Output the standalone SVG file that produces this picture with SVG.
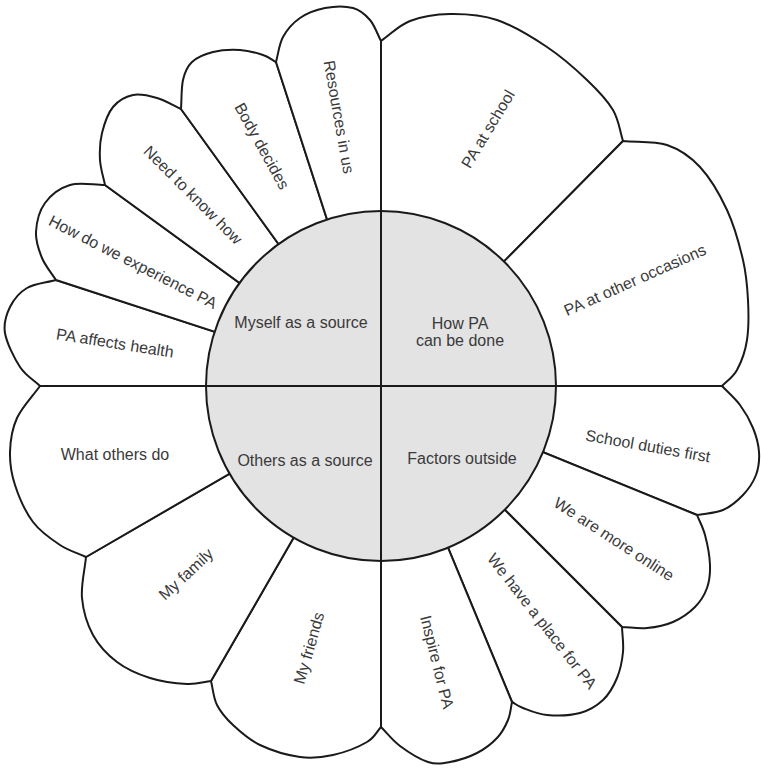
<svg xmlns="http://www.w3.org/2000/svg" width="761" height="770" viewBox="0 0 761 770">
<style>
.petal{fill:#ffffff;stroke:#1a1a1a;stroke-width:2;stroke-linejoin:round}
.core{fill:#e3e3e3;stroke:#1a1a1a;stroke-width:2}
.ln{stroke:#1a1a1a;stroke-width:2;fill:none}
text{font-family:"Liberation Sans",Arial,sans-serif;font-size:16px;fill:#3a3a3a;text-anchor:middle;dominant-baseline:central}
</style>
<rect width="761" height="770" fill="#ffffff"/>
<g id="petal-pa-affects-health">
<path class="petal" d="M381,386 L40,386 C33.3,379.7 25.8,375.8 20,367 S6.7,343 5,333 S6.3,314.5 10,307 S19.3,292.5 27,288 S46.3,282.7 56,280 Z"/>
<text transform="translate(115,343) rotate(9)">PA affects health</text>
</g>
<g id="petal-experience">
<path class="petal" d="M381,386 L56,280 C51.3,272.7 45.3,266 42,258 S35.5,241.2 36,232 S39.3,210.8 45,203 S60,188 70,185 S93.3,185 105,185 Z"/>
<text transform="translate(133,262) rotate(27)">How do we experience PA</text>
</g>
<g id="petal-need-to-know">
<path class="petal" d="M381,386 L105,185 C103.3,176.7 100.5,168.7 100,160 S99.8,141.8 102,133 S107.8,113.3 113,107 S125.7,96.5 133,95 S149,95.7 157,98 S173,105.3 181,109 Z"/>
<text transform="translate(193,195) rotate(45)">Need to know how</text>
</g>
<g id="petal-body-decides">
<path class="petal" d="M381,386 L181,109 C181.7,99.3 181.2,87.8 183,80 S187,66.7 192,62 S205,54 213,52 S231.7,49.5 240,50 S257,53 263,55 S271.7,59.7 276,62 Z"/>
<text transform="translate(262,146) rotate(61)">Body decides</text>
</g>
<g id="petal-resources">
<path class="petal" d="M381,386 L276,62 C278.3,53.7 279,44.3 283,37 S293,22.8 300,18 S316.2,9.7 325,8 S345.5,6 353,8 S365.3,14.5 370,20 S377.3,34 381,41 Z"/>
<text transform="translate(339,117) rotate(80)">Resources in us</text>
</g>
<g id="petal-pa-at-school">
<path class="petal" d="M381,386 L381,41 C390.7,34.3 398.5,25.5 410,21 S435.5,14.2 450,14 S480.8,14.5 497,20 S532,37 547,47 S576,69.5 587,80 S607,99.8 613,110 S619.7,130.7 623,141 Z"/>
<text transform="translate(488,129) rotate(-59)">PA at school</text>
</g>
<g id="petal-pa-other">
<path class="petal" d="M381,386 L623,141 C637.7,142.3 654.2,140.7 667,145 S690,156.2 700,167 S719.8,194.5 727,210 S739.5,245 743,260 S747.3,286.7 748,300 S748.8,328.3 747,340 S741.2,362.3 737,370 S727,380.7 722,386 Z"/>
<text transform="translate(635,280) rotate(-24)">PA at other occasions</text>
</g>
<g id="petal-school-duties">
<path class="petal" d="M381,386 L722,386 C728,392.3 734.8,398 740,405 S749.8,420.2 753,428 S758.5,444.2 759,452 S758.7,467.8 756,475 S748.5,489.2 743,495 S730.7,506.7 723,510 S705.7,513.3 697,515 Z"/>
<text transform="translate(648,446) rotate(10)">School duties first</text>
</g>
<g id="petal-online">
<path class="petal" d="M381,386 L697,515 C699.7,521.7 702.8,526.7 705,535 S709.7,556.2 710,565 S709.5,581 707,588 S700.7,601.3 695,607 S681,618.5 673,622 S655.5,627.2 647,628 S630.3,627.3 622,627 Z"/>
<text transform="translate(614,539) rotate(33)">We are more online</text>
</g>
<g id="petal-place">
<path class="petal" d="M381,386 L622,627 C622.3,635.3 623.8,643.5 623,652 S620.3,670 617,678 S609.2,694.2 603,700 S589.3,710.5 580,713 S556.5,715.8 547,715 S528.8,710.2 523,708 S515.7,704 512,702 Z"/>
<text transform="translate(542,621) rotate(52)">We have a place for PA</text>
</g>
<g id="petal-inspire">
<path class="petal" d="M381,386 L512,702 C510.7,708 510.5,714 508,720 S502.2,732.5 497,738 S484.8,749 477,753 S458.2,760.5 450,762 S436.3,764.7 428,762 S407.8,751.8 400,746 S387.3,733.3 381,727 Z"/>
<text transform="translate(437,662) rotate(76)">Inspire for PA</text>
</g>
<g id="petal-friends">
<path class="petal" d="M381,386 L381,727 C376.3,732 375,737.3 367,742 S344.2,752.5 333,755 S312.2,758.7 300,757 S271.2,750.3 260,745 S240.2,731.7 233,725 S220.7,712.3 217,705 S213,689 211,681 Z"/>
<text transform="translate(309,648) rotate(-74)">My friends</text>
</g>
<g id="petal-family">
<path class="petal" d="M381,386 L211,681 C203,682 197.2,684.5 187,684 S161.7,681.7 150,678 S126.5,669.2 117,662 S98.8,645.7 93,635 S83.2,611 82,598 S84.7,570.7 86,557 Z"/>
<text transform="translate(186,574) rotate(-43)">My family</text>
</g>
<g id="petal-what-others">
<path class="petal" d="M381,386 L86,557 C77.3,553 68.8,550.8 60,545 S40.5,532 33,522 S18.8,496.7 15,485 S9.7,463.2 10,452 S12,429 17,418 S32.3,396.7 40,386 Z"/>
<text x="115" y="454">What others do</text>
</g>
<g id="core">
<circle class="core" cx="381" cy="386" r="175"/>
</g>
<g id="connectors">
<line class="ln" x1="40" y1="386" x2="722" y2="386"/>
<line class="ln" x1="381" y1="41" x2="381" y2="727"/>
</g>
<g id="quadrant-myself">
<text x="301" y="322">Myself as a source</text>
</g>
<g id="quadrant-how">
<text x="460" y="323">How PA</text>
<text x="460" y="340">can be done</text>
</g>
<g id="quadrant-others">
<text x="305" y="460">Others as a source</text>
</g>
<g id="quadrant-factors">
<text x="462" y="458">Factors outside</text>
</g>
</svg>
